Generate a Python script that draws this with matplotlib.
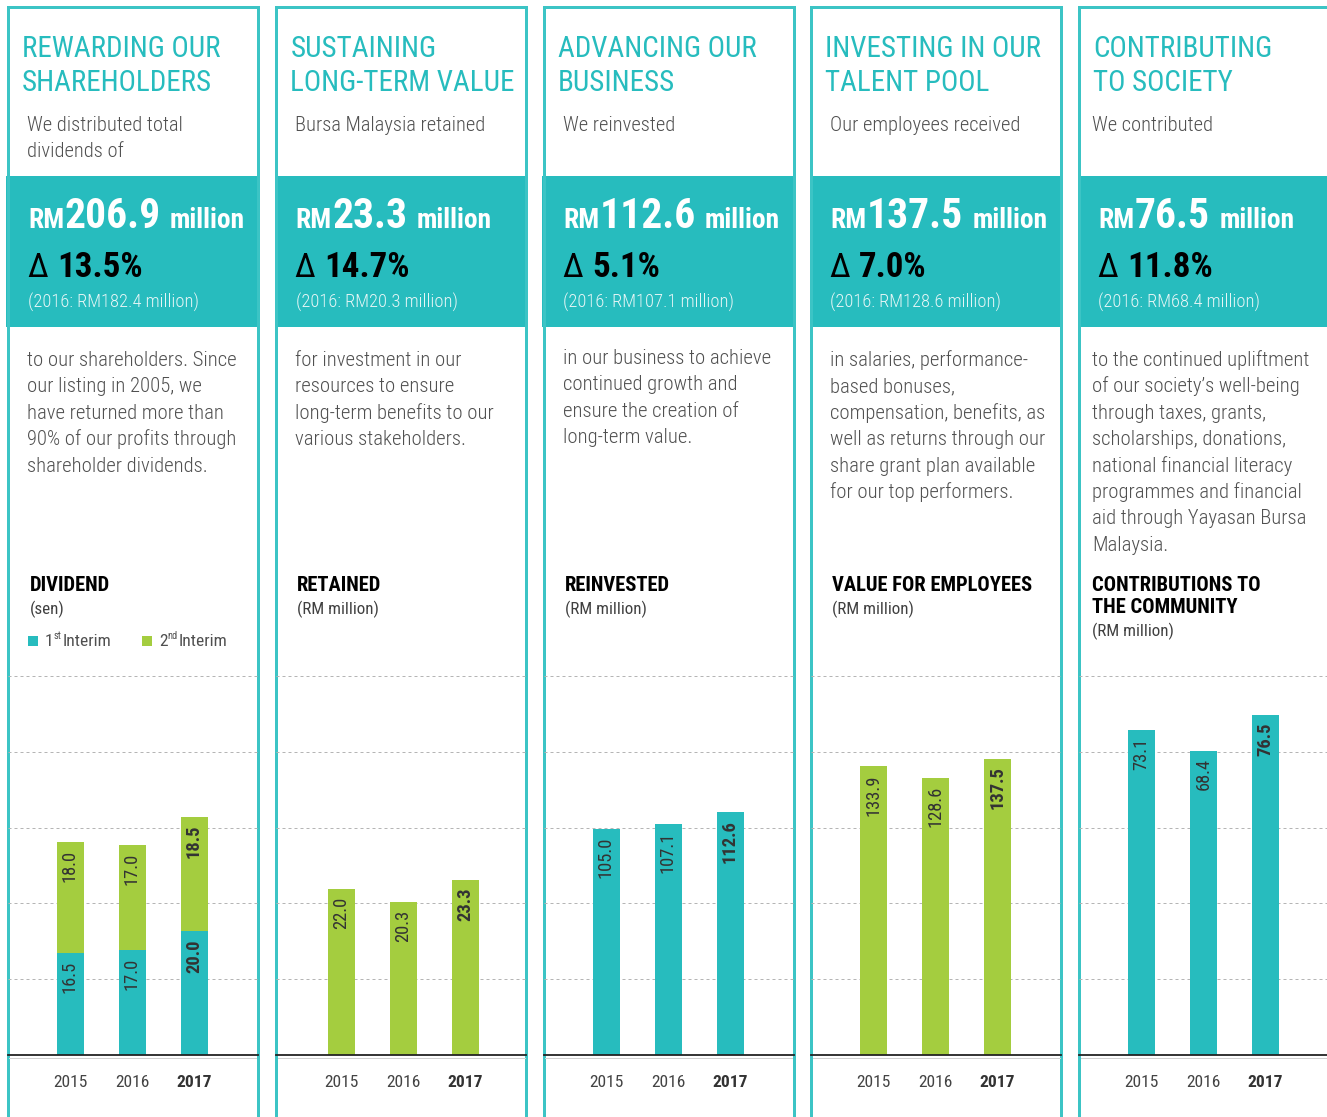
import matplotlib
matplotlib.use("Agg")
import matplotlib.pyplot as plt
from matplotlib.patches import Rectangle
from matplotlib.lines import Line2D
import numpy as np

plt.rcParams['font.family'] = ['Roboto Condensed', 'DejaVu Sans']

# ---------------- data ----------------
years = ['2015', '2016', '2017']
div_1st = [16.5, 17.0, 20.0]
div_2nd = [18.0, 17.0, 18.5]
retained = [22.0, 20.3, 23.3]
reinvested = [105.0, 107.1, 112.6]
employees = [133.9, 128.6, 137.5]
community = [73.1, 68.4, 76.5]

titles = [["REWARDING OUR", "SHAREHOLDERS"], ["SUSTAINING", "LONG-TERM VALUE"],
          ["ADVANCING OUR", "BUSINESS"], ["INVESTING IN OUR", "TALENT POOL"],
          ["CONTRIBUTING", "TO SOCIETY"]]
subtitles = [["We distributed total", "dividends of"], ["Bursa Malaysia retained"],
             ["We reinvested"], ["Our employees received"], ["We contributed"]]
amounts = ["206.9", "23.3", "112.6", "137.5", "76.5"]
changes = ["13.5%", "14.7%", "5.1%", "7.0%", "11.8%"]
prev_amounts = ["RM182.4", "RM20.3", "RM107.1", "RM128.6", "RM68.4"]
bodies = [
    ["to our shareholders. Since", "our listing in 2005, we", "have returned more than",
     "90% of our profits through", "shareholder dividends."],
    ["for investment in our", "resources to ensure", "long-term benefits to our",
     "various stakeholders."],
    ["in our business to achieve", "continued growth and", "ensure the creation of",
     "long-term value."],
    ["in salaries, performance-", "based bonuses,", "compensation, benefits, as",
     "well as returns through our", "share grant plan available", "for our top performers."],
    ["to the continued upliftment", "of our society\u2019s well-being", "through taxes, grants,",
     "scholarships, donations,", "national financial literacy", "programmes and financial",
     "aid through Yayasan Bursa", "Malaysia."],
]
chart_titles = [["DIVIDEND"], ["RETAINED"], ["REINVESTED"], ["VALUE FOR EMPLOYEES"],
                ["CONTRIBUTIONS TO", "THE COMMUNITY"]]
chart_units = ["(sen)", "(RM million)", "(RM million)", "(RM million)", "(RM million)"]
legend_labels = [("1", "st", "Interim"), ("2", "nd", "Interim")]

TEAL = '#27bcbe'
BORDER = '#3cc4c5'
GREEN = '#a4cd3f'
GREY_TXT = '#505050'

W, H = 1327, 1117
fig = plt.figure(figsize=(W / 100, H / 100), dpi=100)
bg = fig.add_axes([0, 0, 1, 1])
bg.set_xlim(0, W)
bg.set_ylim(H, 0)
bg.axis('off')

renderer = fig.canvas.get_renderer()
PT = 72 / 100.0  # px -> pt


def txt(x, y, s, px, color=GREY_TXT, weight='normal', ha='left', va='baseline', **kw):
    t = bg.text(x, y, s, fontsize=px * PT, color=color, fontweight=weight,
                ha=ha, va=va, **kw)
    return t


def width(t):
    return t.get_window_extent(renderer=renderer).width


panel_left = [7.5, 276, 543.5, 811, 1079]
PW = 250
title_off = [14.5, 14.5, 14, 14, 14]
sub_off = [19.5, 19, 19.5, 19, 13.5]
band_off = [20.5, 19.5, 19.5, 19.5, 19.5]
body_off = [19.5, 19, 19.5, 19.5, 13.5]
ctitle_off = [22, 21, 21.5, 21, 13.5]
body_first = [366, 366, 364, 366, 366]

for i, pl in enumerate(panel_left):
    # border (left, top, right)
    bg.add_line(Line2D([pl, pl, pl + PW, pl + PW], [H + 5, 6.5, 6.5, H + 5],
                       color=BORDER, lw=3 * PT, solid_joinstyle='miter'))
    # teal band
    bg.add_patch(Rectangle((pl - 1.5, 176), PW + 3, 150.5, color=TEAL, lw=0))
    # title
    for k, line in enumerate(titles[i]):
        txt(pl + title_off[i], 57 + 34 * k, line, 29, color=TEAL)
    for k, line in enumerate(subtitles[i]):
        txt(pl + sub_off[i], 131 + 26 * k, line, 20.5, weight=300)
    # big number line
    x0 = pl + band_off[i]
    t = txt(x0, 228, "RM", 27.5, color='white', weight='bold')
    x = x0 + width(t) + 0.5
    t = txt(x, 228, amounts[i], 41.5, color='white', weight='bold')
    x = x + width(t) + 9
    txt(x, 228, "million", 27.5, color='white', weight='bold')
    t = txt(x0 - 1, 277, "\u0394", 34, color='black', weight='normal')
    txt(x0 - 1 + width(t) + 9, 277, changes[i], 35, color='black', weight='bold')
    txt(x0, 308, f"(2016: {prev_amounts[i]} million)", 18.5, color='#e6f6f6', weight=300)
    # body
    for k, line in enumerate(bodies[i]):
        txt(pl + body_off[i], body_first[i] + 26.4 * k, line, 20.7, weight=300)
    # chart title
    for k, line in enumerate(chart_titles[i]):
        txt(pl + ctitle_off[i], 591 + 22 * k, line, 20.5, color='black', weight='bold')
    uy = 614 + 22 * (len(chart_titles[i]) - 1)
    txt(pl + ctitle_off[i], uy, chart_units[i], 17, color='#404040')
    # light grey line under baseline
    bg.add_line(Line2D([pl + 1.5, pl + PW - 1.5], [1057.5, 1057.5], color='#d0d0d0', lw=1 * PT))

# legend (panel 1)
for (n, sup, lab), col, lx in zip(legend_labels, [TEAL, GREEN], [28, 142]):
    bg.add_patch(Rectangle((lx, 636), 10, 10, color=col, lw=0))
    t = txt(lx + 17, 646, n, 17.5, color=GREY_TXT)
    x = lx + 17 + width(t)
    t2 = txt(x, 639, sup, 10.5, color=GREY_TXT)
    txt(x + width(t2) + 1, 646, lab, 17.5, color=GREY_TXT)

# ---------------- charts ----------------
px_per_unit = [6.18, 7.53, 2.155, 2.155, 4.45]
CH_TOP, CH_BOT = 676, 1055
series = [None, retained, reinvested, employees, community]
colors = [None, GREEN, TEAL, GREEN, TEAL]
xpos = np.arange(len(years))
SP = 62.0
BAR_W = 27 / SP
first_off = [62.5, 65.5, 62.5, 62.5, 62.5]

for i, pl in enumerate(panel_left):
    ax = fig.add_axes([pl / W, (H - CH_BOT) / H, PW / W, (CH_BOT - CH_TOP) / H])
    ax.patch.set_alpha(0)
    ymax = (CH_BOT - CH_TOP) / px_per_unit[i]
    ax.set_ylim(0, ymax)
    ax.set_xlim(-first_off[i] / SP, (PW - first_off[i]) / SP)
    for k in range(1, 6):
        ax.axhline(ymax * k / 5, color='#b5b5b5', lw=1 * PT, ls=(0, (3, 3)), clip_on=False, zorder=0)
    if i == 0:
        ax.bar(xpos, div_1st, BAR_W, color=TEAL, zorder=2)
        ax.bar(xpos, div_2nd, BAR_W, bottom=div_1st, color=GREEN, zorder=2)
        label_sets = [(div_1st, [0, 0, 0]), (div_2nd, div_1st)]
        for vals, bots in label_sets:
            for j in range(len(years)):
                ax.annotate(f"{vals[j]:.1f}", xy=(xpos[j], bots[j] + vals[j]), xytext=(0, -5.5),
                            textcoords='offset points', rotation=90, ha='center', va='top',
                            fontsize=18.5 * PT, color='#333333',
                            fontweight='bold' if j == 2 else 'normal', zorder=3)
    else:
        vals = series[i]
        ax.bar(xpos, vals, BAR_W, color=colors[i], zorder=2)
        for j in range(len(years)):
            ax.annotate(f"{vals[j]:.1f}", xy=(xpos[j], vals[j]), xytext=(0, -5.5),
                        textcoords='offset points', rotation=90, ha='center', va='top',
                        fontsize=18.5 * PT, color='#333333',
                        fontweight='bold' if j == 2 else 'normal', zorder=3)
    ax.axhline(0, color='#222222', lw=1.8 * PT, zorder=4, clip_on=False)
    for s in ax.spines.values():
        s.set_visible(False)
    ax.set_yticks([])
    ax.set_xticks(xpos)
    ax.set_xticklabels(years, fontsize=17.5 * PT, color='#444444')
    ax.get_xticklabels()[-1].set_fontweight('bold')
    ax.get_xticklabels()[-1].set_color('#333333')
    ax.tick_params(axis='x', length=0, pad=20 * PT)

fig.savefig("out.png", dpi=100)
